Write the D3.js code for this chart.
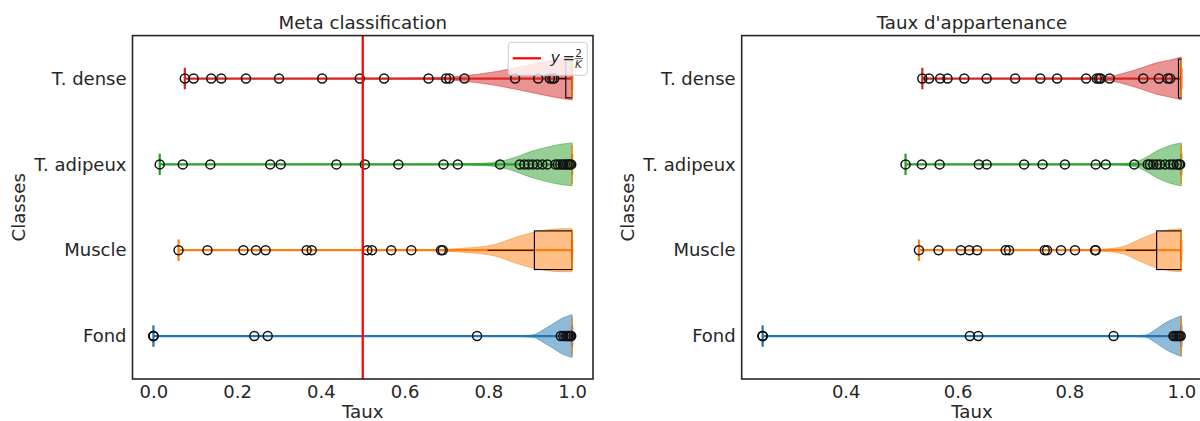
<!DOCTYPE html>
<html>
<head>
<meta charset="utf-8">
<script src="https://cdn.jsdelivr.net/npm/d3@7"></script>
<style>
  html, body { margin: 0; padding: 0; background: #fff; }
  svg { display: block; font-family: "DejaVu Sans", sans-serif; }
</style>
</head>
<body>
<svg id="chart" width="1200" height="421"></svg>
<script>
// Classes, bottom to top
const classes = ["Fond", "Muscle", "T. adipeux", "T. dense"];

// ---- Meta classification: outlying scores per class ----
const metaFond    = [0.0, 0.0, 0.0, 0.241, 0.273, 0.773, 0.973, 0.979, 0.984, 0.988, 0.991, 0.994, 0.996, 0.998];
const metaMuscle  = [0.060, 0.129, 0.215, 0.245, 0.268, 0.366, 0.378, 0.511, 0.522, 0.568, 0.616, 0.687, 0.691];
const metaAdipeux = [0.015, 0.070, 0.136, 0.279, 0.304, 0.437, 0.505, 0.585, 0.693, 0.727, 0.828, 0.875, 0.886,
                     0.896, 0.906, 0.917, 0.929, 0.941, 0.960, 0.966, 0.972, 0.978, 0.983, 0.988, 0.992, 0.995, 0.998];
const metaDense   = [0.075, 0.096, 0.138, 0.162, 0.221, 0.300, 0.403, 0.493, 0.551, 0.657, 0.699, 0.707, 0.743,
                     0.864, 0.919, 0.947, 0.953, 0.957];
// box stats per class: [lower whisker, Q1, median, Q3, upper whisker]
const metaBox = [
  [1.0, 1.0, 1.0, 1.0, 1.0],
  [0.798, 0.910, 1.0, 1.0, 1.0],
  [1.0, 1.0, 1.0, 1.0, 1.0],
  [0.969, 0.985, 1.0, 1.0, 1.0]
];
// density profiles: [score, relative half-width]
const metaViolinFond    = [[0.0, 0], [0.85, 0.01], [0.905, 0.05], [0.937, 0.36], [0.961, 0.65], [0.977, 0.84], [0.993, 0.95], [1.0, 1.0]];
const metaViolinMuscle  = [[0.06, 0], [0.65, 0.02], [0.739, 0.09], [0.818, 0.28], [0.858, 0.55], [0.898, 0.79], [0.937, 0.94], [0.977, 1.0], [1.0, 1.0]];
const metaViolinAdipeux = [[0.015, 0], [0.70, 0.02], [0.786, 0.05], [0.83, 0.15], [0.857, 0.28], [0.90, 0.59], [0.937, 0.79], [0.977, 0.95], [1.0, 1.0]];
const metaViolinDense   = [[0.075, 0], [0.60, 0.02], [0.70, 0.06], [0.74, 0.12], [0.82, 0.33], [0.86, 0.48], [0.90, 0.64], [0.94, 0.80], [0.976, 0.93], [1.0, 1.0]];

// ---- Taux d'appartenance: outlying scores per class ----
const appFond    = [0.2515, 0.2515, 0.2515, 0.622, 0.637, 0.879, 0.986, 0.989, 0.992, 0.995, 0.997, 0.999];
const appMuscle  = [0.531, 0.566, 0.606, 0.621, 0.635, 0.686, 0.692, 0.756, 0.760, 0.785, 0.810, 0.846, 0.847];
const appAdipeux = [0.507, 0.536, 0.568, 0.638, 0.652, 0.719, 0.752, 0.792, 0.847, 0.865, 0.916, 0.940, 0.944,
                    0.950, 0.956, 0.962, 0.971, 0.980, 0.986, 0.992, 0.996, 0.998];
const appDense   = [0.537, 0.549, 0.569, 0.582, 0.612, 0.652, 0.703, 0.748, 0.778, 0.830, 0.849, 0.853, 0.856,
                    0.872, 0.932, 0.960, 0.976, 0.980];
const appBox = [
  [1.0, 1.0, 1.0, 1.0, 1.0],
  [0.901, 0.956, 1.0, 1.0, 1.0],
  [1.0, 1.0, 1.0, 1.0, 1.0],
  [0.988, 0.995, 1.0, 1.0, 1.0]
];
const appViolinFond    = [[0.2515, 0], [0.90, 0.01], [0.936, 0.05], [0.956, 0.34], [0.974, 0.65], [0.986, 0.80], [1.0, 0.95]];
const appViolinMuscle  = [[0.531, 0], [0.83, 0.02], [0.866, 0.06], [0.896, 0.17], [0.926, 0.51], [0.956, 0.82], [0.986, 0.98], [1.0, 1.0]];
const appViolinAdipeux = [[0.507, 0], [0.88, 0.02], [0.916, 0.10], [0.934, 0.28], [0.956, 0.62], [0.98, 0.88], [1.0, 1.0]];
const appViolinDense   = [[0.537, 0], [0.80, 0.02], [0.872, 0.10], [0.89, 0.20], [0.926, 0.47], [0.956, 0.73], [0.986, 0.90], [1.0, 1.0]];

// tick values and threshold
const metaTicks = [0.0, 0.2, 0.4, 0.6, 0.8, 1.0];
const appTicks = [0.4, 0.6, 0.8, 1.0];
const threshold = 0.5;

// ---- styling ----
const palette = ["#1f77b4", "#ff7f0e", "#2ca02c", "#d62728"];
const ink = "#262626";
const axTop = 35.6, axBot = 379;

const svg = d3.select("#chart");

function drawPanel(p) {
  const g = svg.append("g");
  const allVals = p.fliers.flat().concat(p.box.flatMap(b => [b[0], b[4]]));
  const lo = d3.min(allVals), hi = d3.max(allVals), pad = 0.05 * (hi - lo);
  const x = d3.scaleLinear().domain([lo - pad, hi + pad]).range([p.left, p.right]);
  const y = d3.scaleLinear().domain([0.5, classes.length + 0.5]).range([axBot, axTop]);
  const unit = Math.abs(y(1) - y(0));
  const violinHalf = 0.25 * unit, extremaHalf = 0.125 * unit, boxHalf = 0.225 * unit;

  classes.forEach((c, i) => {
    const yc = y(i + 1);
    const col = palette[i];
    const [wlo, q1, med, q3, whi] = p.box[i];
    const vmin = d3.min(p.fliers[i].concat([wlo])), vmax = d3.max(p.fliers[i].concat([whi]));

    // violin body
    const area = d3.area()
      .x(d => x(d[0]))
      .y0(d => yc - d[1] * violinHalf)
      .y1(d => yc + d[1] * violinHalf)
      .curve(d3.curveMonotoneX);
    g.append("path").datum(p.violins[i]).attr("d", area)
      .attr("fill", col).attr("fill-opacity", 0.5)
      .attr("stroke", col).attr("stroke-opacity", 0.5).attr("stroke-width", 1);

    // extrema bar and end ticks
    g.append("line").attr("x1", x(vmin)).attr("x2", x(vmax)).attr("y1", yc).attr("y2", yc)
      .attr("stroke", col).attr("stroke-width", 2.25);
    [vmin, vmax].forEach(v => {
      g.append("line").attr("x1", x(v)).attr("x2", x(v))
        .attr("y1", yc - extremaHalf).attr("y2", yc + extremaHalf)
        .attr("stroke", col).attr("stroke-width", 2.25);
    });

    // box plot
    g.append("line").attr("x1", x(wlo)).attr("x2", x(q1)).attr("y1", yc).attr("y2", yc)
      .attr("stroke", "#000").attr("stroke-width", 1.1);
    g.append("line").attr("x1", x(q3)).attr("x2", x(whi)).attr("y1", yc).attr("y2", yc)
      .attr("stroke", "#000").attr("stroke-width", 1.1);
    if (q3 > q1) {
      g.append("rect").attr("x", x(q1)).attr("y", yc - boxHalf)
        .attr("width", x(q3) - x(q1)).attr("height", 2 * boxHalf)
        .attr("fill", "none").attr("stroke", "#000").attr("stroke-width", 1.1);
    }
    g.append("line").attr("x1", x(med)).attr("x2", x(med))
      .attr("y1", yc - boxHalf).attr("y2", yc + boxHalf)
      .attr("stroke", "#ff7f0e").attr("stroke-width", 1.5);

    // outliers
    g.selectAll(null).data(p.fliers[i]).enter().append("circle")
      .attr("cx", d => x(d)).attr("cy", yc).attr("r", 4.5)
      .attr("fill", "none").attr("stroke", "#111").attr("stroke-width", 1.5);
  });

  if (p.threshold !== undefined) {
    g.append("line").attr("x1", x(p.threshold)).attr("x2", x(p.threshold))
      .attr("y1", axTop).attr("y2", axBot)
      .attr("stroke", "#ff0000").attr("stroke-width", 2.25);
  }

  // frame
  g.append("rect").attr("x", p.left).attr("y", axTop)
    .attr("width", p.right - p.left).attr("height", axBot - axTop)
    .attr("fill", "none").attr("stroke", ink).attr("stroke-width", 1.6);

  // axes
  const xAxis = g.append("g").attr("transform", `translate(0,${axBot})`)
    .call(d3.axisBottom(x).tickValues(p.ticks).tickFormat(d3.format(".1f")).tickSize(0).tickPadding(6.5));
  xAxis.select(".domain").remove();
  xAxis.selectAll("text").attr("font-size", 18).attr("fill", ink).attr("font-family", "DejaVu Sans");

  const yAxis = g.append("g").attr("transform", `translate(${p.left},0)`)
    .call(d3.axisLeft(y).tickValues(classes.map((c, i) => i + 1)).tickFormat(i => classes[i - 1]).tickSize(0).tickPadding(6));
  yAxis.select(".domain").remove();
  yAxis.selectAll("text").attr("font-size", 18).attr("fill", ink).attr("font-family", "DejaVu Sans");

  const cx = (p.left + p.right) / 2;
  g.append("text").attr("x", cx).attr("y", 29).attr("text-anchor", "middle")
    .attr("font-size", 18.2).attr("fill", ink).text(p.title);
  g.append("text").attr("x", cx).attr("y", 418).attr("text-anchor", "middle")
    .attr("font-size", 18.2).attr("fill", ink).text("Taux");
  g.append("text").attr("transform", `translate(${p.left - 108},${(axTop + axBot) / 2}) rotate(-90)`)
    .attr("text-anchor", "middle").attr("font-size", 18.2).attr("fill", ink).text("Classes");

  return x;
}

drawPanel({
  title: "Meta classification", left: 132.5, right: 593,
  fliers: [metaFond, metaMuscle, metaAdipeux, metaDense], box: metaBox,
  violins: [metaViolinFond, metaViolinMuscle, metaViolinAdipeux, metaViolinDense],
  ticks: metaTicks, threshold: threshold
});
drawPanel({
  title: "Taux d'appartenance", left: 741.7, right: 1202.2,
  fliers: [appFond, appMuscle, appAdipeux, appDense], box: appBox,
  violins: [appViolinFond, appViolinMuscle, appViolinAdipeux, appViolinDense],
  ticks: appTicks
});

// legend for the threshold line
const leg = svg.append("g");
leg.append("rect").attr("x", 508.3).attr("y", 42.3).attr("width", 79).attr("height", 33).attr("rx", 3)
  .attr("fill", "#fff").attr("fill-opacity", 0.8).attr("stroke", "#cccccc").attr("stroke-width", 1);
leg.append("line").attr("x1", 512.7).attr("x2", 541).attr("y1", 58.3).attr("y2", 58.3)
  .attr("stroke", "#ff0000").attr("stroke-width", 2.25);
leg.append("text").attr("x", 550.5).attr("y", 63).attr("font-size", 16).attr("font-style", "italic")
  .attr("fill", ink).text("y");
leg.append("text").attr("x", 562.5).attr("y", 63).attr("font-size", 15).attr("fill", ink).text("=");
leg.append("text").attr("x", 578.5).attr("y", 56.5).attr("font-size", 10.5).attr("text-anchor", "middle")
  .attr("fill", ink).text("2");
leg.append("line").attr("x1", 574.5).attr("x2", 583).attr("y1", 58.6).attr("y2", 58.6)
  .attr("stroke", ink).attr("stroke-width", 0.7);
leg.append("text").attr("x", 578.5).attr("y", 67.5).attr("font-size", 10.5).attr("text-anchor", "middle")
  .attr("font-style", "italic").attr("fill", ink).text("K");
</script>
</body>
</html>
